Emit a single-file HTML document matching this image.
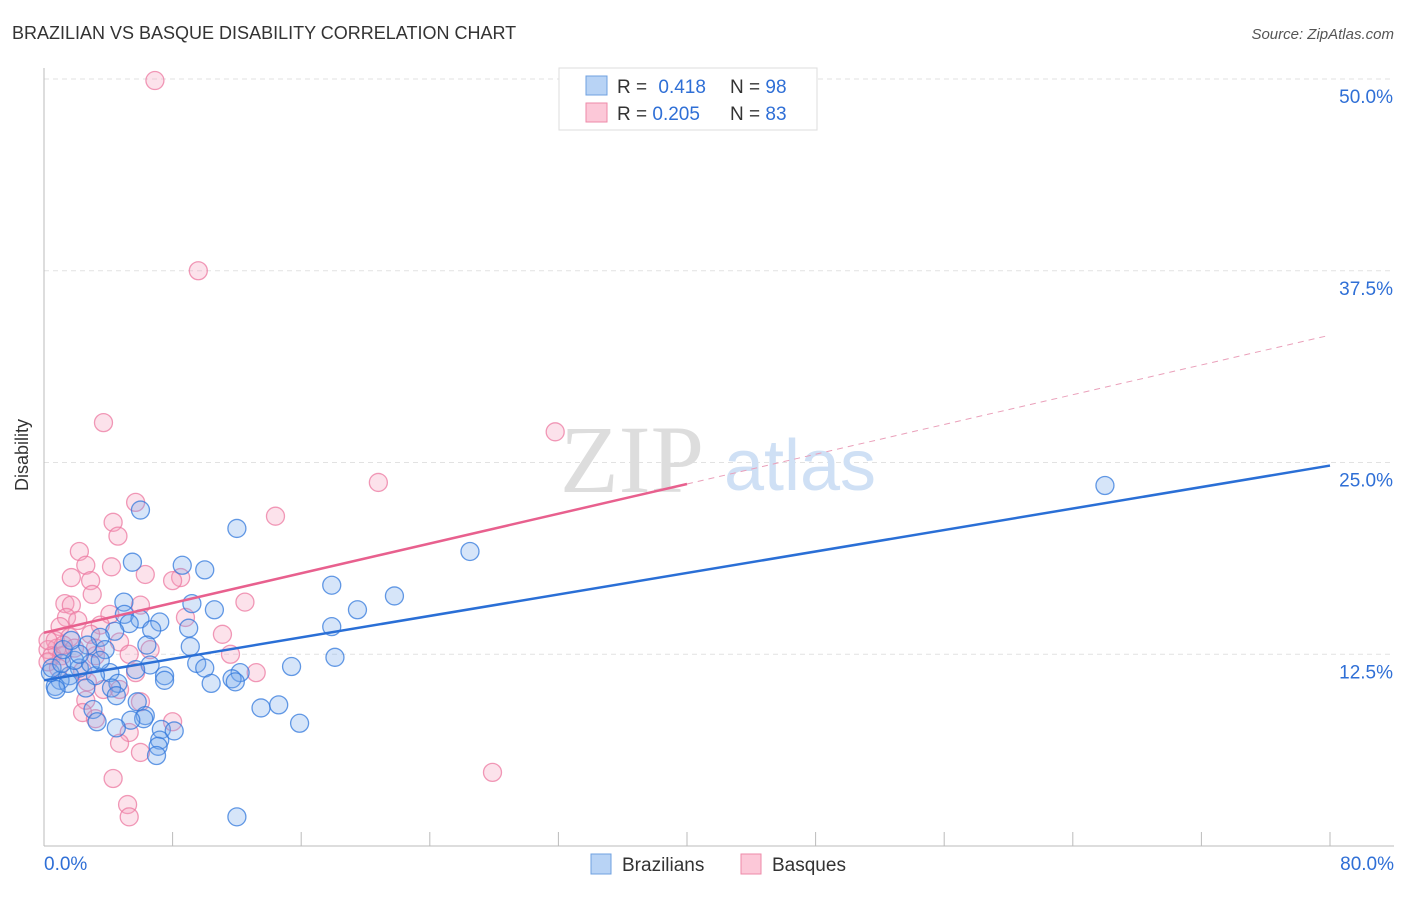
<!DOCTYPE html>
<html><head><meta charset="utf-8"><style>
body{margin:0;background:#fff;font-family:"Liberation Sans",sans-serif;}
</style></head><body>
<svg width="1406" height="892" xmlns="http://www.w3.org/2000/svg">
<text x="12" y="39" font-size="18" fill="#333">BRAZILIAN VS BASQUE DISABILITY CORRELATION CHART</text>
<text x="1394" y="39" font-size="15" fill="#555" font-style="italic" text-anchor="end">Source: ZipAtlas.com</text>
<g id="grid"></g>
<text x="632" y="492" font-size="96" font-family="Liberation Serif" fill="#ddd" text-anchor="middle">ZIP</text>
<text x="800" y="490" font-size="72" fill="#cfe0f5" text-anchor="middle">atlas</text>
<g id="pts"></g>
<g id="lines"></g>
<text x="28" y="455" font-size="18" fill="#333" transform="rotate(-90 28 455)" text-anchor="middle">Disability</text>
<g>
<rect x="559" y="68" width="258" height="62" fill="#fff" stroke="#ddd"/>
<rect x="586" y="76" width="21" height="19" fill="#b8d3f5" stroke="#6fa0e0"/>
<rect x="586" y="103" width="21" height="19" fill="#fcc8d8" stroke="#ee8aa8"/>
<text x="617" y="93" font-size="19" fill="#333">R = <tspan fill="#2f6fd6" dx="6">0.418</tspan></text>
<text x="730" y="93" font-size="19" fill="#333">N = <tspan fill="#2f6fd6">98</tspan></text>
<text x="617" y="120" font-size="19" fill="#333">R = <tspan fill="#2f6fd6">0.205</tspan></text>
<text x="730" y="120" font-size="19" fill="#333">N = <tspan fill="#2f6fd6">83</tspan></text>
</g>
<g>
<rect x="591" y="854" width="20" height="20" fill="#b8d3f5" stroke="#6fa0e0"/>
<text x="622" y="871" font-size="19" fill="#333">Brazilians</text>
<rect x="741" y="854" width="20" height="20" fill="#fcc8d8" stroke="#ee8aa8"/>
<text x="772" y="871" font-size="19" fill="#333">Basques</text>
</g>
<text x="44" y="870" font-size="19" fill="#2f6fd6">0.0%</text>
<text x="1394" y="870" font-size="19" fill="#2f6fd6" text-anchor="end">80.0%</text>
</svg>
<script>
const yTicks=[12.5,25,37.5,50];
const yTickLabels=["12.5%","25.0%","37.5%","50.0%"];
const blueX=[66.0,26.5,12.0,6.0,5.5,8.6,10.0,17.9,21.8,19.5,9.2,10.6,4.97,5.0,5.97,7.2,5.3,17.9,9.0,6.7,4.4,6.4,9.1,3.5,2.7,3.8,18.1,15.4,9.5,10.0,6.6,5.7,12.2,7.5,7.5,11.7,11.9,10.4,4.1,3.2,2.2,1.6,1.0,0.7,1.5,2.6,4.6,4.2,4.5,5.8,14.6,13.5,3.05,6.3,6.2,5.4,3.3,15.9,4.5,7.3,8.1,7.2,7.1,7.0,12.0,0.4,0.5,1.1,1.9,0.75,1.2,2.9,3.5,2.2,1.7];
const blueY=[23.5,19.2,20.7,21.9,18.5,18.3,18.0,17.0,16.3,15.4,15.8,15.4,15.9,15.1,14.8,14.6,14.5,14.3,14.2,14.1,14.0,13.1,13.0,13.6,13.1,12.8,12.3,11.7,11.9,11.6,11.8,11.5,11.3,11.1,10.8,10.9,10.7,10.6,11.3,11.1,11.6,11.1,10.8,10.4,10.6,10.3,10.6,10.3,9.8,9.4,9.2,9.0,8.9,8.5,8.3,8.2,8.1,8.0,7.7,7.6,7.5,6.9,6.5,5.9,1.9,11.3,11.6,11.9,12.1,10.2,12.8,11.9,12.1,12.5,13.4];
const pinkX=[6.9,9.6,3.7,31.8,20.8,5.7,14.4,4.3,4.6,2.2,4.2,2.6,6.3,8.5,8.0,1.7,2.9,3.0,12.5,1.3,1.7,6.0,4.1,8.8,1.4,2.1,3.5,1.0,11.1,2.9,1.6,0.7,4.7,6.6,11.6,0.8,0.25,0.5,1.1,3.2,5.3,13.2,5.7,2.4,0.25,0.9,4.7,3.7,2.7,6.0,2.6,2.4,3.2,8.0,5.3,4.7,6.0,27.9,4.3,5.2,5.3,1.2,0.25,1.9,3.2];
const pinkY=[49.9,37.5,27.6,27.0,23.7,22.4,21.5,21.1,20.2,19.2,18.2,18.3,17.7,17.5,17.3,17.5,17.3,16.4,15.9,15.8,15.7,15.7,15.1,14.9,14.9,14.7,14.4,14.3,13.8,13.8,13.6,13.4,13.3,12.8,12.5,12.9,12.8,12.4,12.4,12.4,12.5,11.3,11.3,11.4,12.0,11.6,10.2,10.2,10.7,9.4,9.5,8.7,8.3,8.1,7.4,6.7,6.1,4.8,4.4,2.7,1.9,13.1,13.4,12.9,12.9];
const blueTrend=[10.8,24.8];
const pinkTrend=[13.9,33.3];
const xs=v=>44+v/80*1286, ys=v=>846-v/50*767;
const NS="http://www.w3.org/2000/svg";
function mk(tag,attrs,parent){const e=document.createElementNS(NS,tag);for(const k in attrs)e.setAttribute(k,attrs[k]);parent.appendChild(e);return e;}
const grid=document.getElementById('grid');
yTicks.forEach((t,i)=>{
 const l=mk('line',{x1:44,x2:1394,y1:ys(t),y2:ys(t),stroke:'#e2e2e2','stroke-dasharray':'5,4'},grid);
 
 
 const tx=mk('text',{x:1393,y:ys(t)+24,'font-size':19,fill:'#2f6fd6','text-anchor':'end'},grid);
 tx.textContent=yTickLabels[i];
 
 
});
const ax=mk('line',{x1:44,x2:44,y1:68,y2:846,stroke:'#bbb'},grid);


const bx=mk('line',{x1:44,x2:1394,y1:846,y2:846,stroke:'#bbb'},grid);


for(let i=1;i<=10;i++){const t=mk('line',{x1:xs(i*8),x2:xs(i*8),y1:832,y2:846,stroke:'#bbb'},grid);
 
 }
const pts=document.getElementById('pts');
pinkX.forEach((x,i)=>{const c=mk('circle',{cx:xs(x),cy:ys(pinkY[i]),r:9,fill:'rgba(246,160,190,0.3)',stroke:'rgba(236,120,160,0.75)','stroke-width':1.3},pts);
 
 });
blueX.forEach((x,i)=>{const c=mk('circle',{cx:xs(x),cy:ys(blueY[i]),r:9,fill:'rgba(120,170,235,0.3)',stroke:'rgba(50,120,220,0.75)','stroke-width':1.3},pts);
 
 });
const lines=document.getElementById('lines');
const bl=mk('line',{x1:xs(0),y1:ys(blueTrend[0]),x2:xs(80),y2:ys(blueTrend[1]),stroke:'#2a6fd6','stroke-width':2.5},lines);


const pm=pinkTrend[0]+(pinkTrend[1]-pinkTrend[0])*0.5;
const pl=mk('line',{x1:xs(0),y1:ys(pinkTrend[0]),x2:xs(40),y2:ys(pm),stroke:'#e8608e','stroke-width':2.5},lines);


const pd=mk('line',{x1:xs(40),y1:ys(pm),x2:xs(80),y2:ys(pinkTrend[1]),stroke:'#eaa0ba','stroke-width':1,'stroke-dasharray':'6,5'},lines);


</script>
</body></html>
